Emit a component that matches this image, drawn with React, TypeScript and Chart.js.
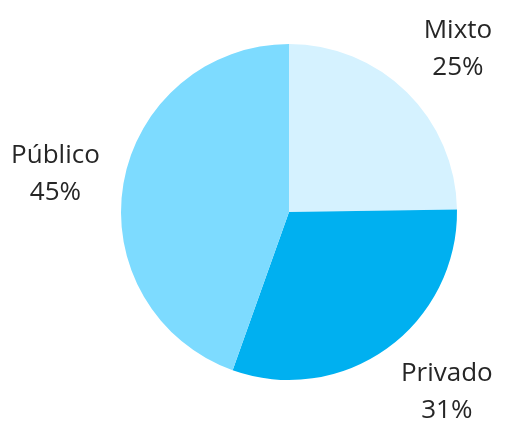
import React, { useEffect, useRef } from "react";
import { Chart, registerables } from "chart.js";

Chart.register(...registerables);

const categories = ["Mixto", "Privado", "Público"];
const shares = [25, 31, 45];
const sliceColors = ["#D5F2FF", "#00B0F0", "#7DDBFF"];

const FONT_SIZE = 26;
const LINE_GAP = 37;
const CAP_H = 19;
const LABEL_GAP = 24;

const outsideLabels = {
  id: "outsideLabels",
  afterDatasetsDraw(chart: any) {
    const ctx = chart.ctx;
    const meta = chart.getDatasetMeta(0);
    ctx.save();
    ctx.font = `${FONT_SIZE}px "Open Sans"`;
    ctx.fillStyle = "#262626";
    ctx.textAlign = "center";
    ctx.textBaseline = "alphabetic";
    meta.data.forEach((arc: any, i: number) => {
      const p = arc.getProps(["x", "y", "startAngle", "endAngle", "outerRadius"], true);
      const mid = (p.startAngle + p.endAngle) / 2;
      const dx = Math.cos(mid);
      const dy = Math.sin(mid);
      const lines = [categories[i], `${shares[i]}%`];
      const w = Math.max(...lines.map((t) => ctx.measureText(t).width));
      const h = CAP_H + LINE_GAP;
      const d = p.outerRadius + LABEL_GAP;
      const px = p.x + dx * d;
      const py = p.y + dy * d;
      const fx = Math.max(-1, Math.min(1, dx * 2));
      const fy = Math.max(-1, Math.min(1, dy * 1.6));
      let cx = px + fx * (w / 2);
      let cy = py + fy * (h / 2);
      const W = chart.width;
      const H = chart.height;
      cx = Math.max(w / 2 + 4, Math.min(W - w / 2 - 4, cx));
      cy = Math.max(h / 2 + 4, Math.min(H - h / 2 - 5, cy));
      const b1 = cy - h / 2 + CAP_H;
      ctx.fillText(lines[0], cx, b1);
      ctx.fillText(lines[1], cx, b1 + LINE_GAP);
    });
    ctx.restore();
  },
};

export default function App() {
  const ref = useRef<HTMLCanvasElement | null>(null);
  useEffect(() => {
    if (!ref.current) return;
    const chart = new Chart(ref.current, {
      type: "pie",
      data: {
        labels: categories,
        datasets: [
          {
            data: shares,
            backgroundColor: sliceColors,
            borderWidth: 0,
          },
        ],
      },
      options: {
        responsive: false,
        animation: false,
        layout: { padding: { left: 121, right: 48, top: 44, bottom: 43 } },
        plugins: {
          legend: { display: false },
          tooltip: { enabled: false },
        },
      },
      plugins: [outsideLabels],
    });
    return () => chart.destroy();
  }, []);
  return (
    <div style={{ position: "absolute", left: 0, top: 0, width: 505, height: 423, background: "#ffffff" }}>
      <canvas ref={ref} width={505} height={423} style={{ display: "block" }} />
    </div>
  );
}
